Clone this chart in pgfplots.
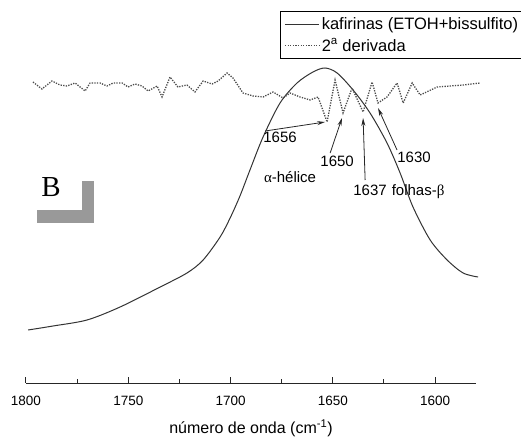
\documentclass[border=0pt]{standalone}
\usepackage{fontspec}
\setmainfont{Liberation Sans}
\newfontfamily\serif{Liberation Serif}
\usepackage{pgfplots}
\pgfplotsset{compat=1.18}
\usetikzlibrary{arrows.meta}

\begin{document}
\begin{tikzpicture}
\path[use as bounding box] (0,0) rectangle (521pt,439pt);
\begin{axis}[at={(26pt,56pt)}, anchor=south west, scale only axis,
 width=450pt, height=370pt,
 x dir=reverse, xmin=1580, xmax=1800, ymin=0, ymax=370,
 axis x line*=bottom, axis y line=none,
 axis line style={-, line width=1pt, black!85},
 xtick={1600,1650,...,1800}, minor xtick={1625,1675,1725,1775},
 tick align=inside, major tick length=6pt, minor tick length=4pt,
 tick style={line width=1pt, black!85},
 xticklabel style={font=\fontsize{13.5}{15}\selectfont, yshift=-10pt, /pgf/number format/assume math mode=true},
 /pgf/number format/1000 sep={},
 xlabel={número de onda (cm\textsuperscript{-1})},
 xlabel style={font=\fontsize{16}{18}\selectfont, yshift=-7pt},
 clip=false,
 legend style={at={(axis cs:1675.8,372)}, anchor=north west,
   font=\fontsize{16.5}{19}\selectfont, draw=black, line width=0.6pt,
   inner xsep=4pt, inner ysep=4pt, row sep=4pt},
 legend cell align=left,
 legend image code/.code={\draw[#1] (0cm,0cm) -- (1.2cm,0cm);},
]
\addplot[black!80, line width=1pt, smooth, tension=0.5] coordinates {
(1799.0,53) (1786.8,57) (1770.2,63) (1754.0,76) (1734.4,96) (1721.3,110)
(1713.4,123) (1705.1,146) (1700.2,165) (1695.4,187) (1690.5,213) (1684.1,246)
(1675.8,280) (1667.5,300) (1659.7,311) (1653.8,315) (1647.9,310) (1640.1,293)
(1631.8,270) (1623.5,240) (1617.1,210) (1610.8,176) (1602.4,143) (1594.1,123)
(1586.3,110) (1579.0,106)
};
\addlegendentry{kafirinas (ETOH+bissulfito)}
\addplot[black!70, line width=1.3pt, dash pattern=on 1.3pt off 1.3pt] coordinates {
(1796.6,301) (1792.2,294) (1787.3,302) (1783.4,298) (1780.0,297) (1776.0,300)
(1771.1,292) (1768.7,300) (1763.8,300) (1760.4,297) (1757.4,300) (1753.0,300)
(1750.1,296) (1746.7,299) (1743.3,297) (1740.3,292) (1735.9,297) (1733.5,286)
(1729.6,306) (1725.7,296) (1721.3,298) (1717.4,291) (1713.4,302) (1709.0,299)
(1706.1,302) (1701.7,310) (1698.8,305) (1693.9,290) (1689.0,287) (1684.1,286)
(1679.2,291) (1674.3,285) (1670.9,290) (1666.0,286) (1661.1,283) (1657.2,286)
(1652.8,261) (1648.9,303) (1645.0,270) (1640.6,295) (1635.2,271) (1630.8,301)
(1627.9,280) (1623.5,286) (1618.6,300) (1615.6,280) (1611.2,300) (1607.3,288)
(1599.0,296) (1586.3,298) (1578.0,300)
};
\addlegendentry{2\textsuperscript{a} derivada}

\begin{scope}[font=\fontsize{15}{17}\selectfont]
\node at (axis cs:1675.8,246) {1656};
\node at (axis cs:1647.9,222) {1650};
\node at (axis cs:1670.9,206) {{\serif α}-hélice};
\node at (axis cs:1631.8,193) {1637};
\node at (axis cs:1608.3,191) {folhas-{\serif β}};
\node at (axis cs:1610.3,226) {1630};
\end{scope}
\begin{scope}[-{Stealth[length=8pt,width=4pt]}, line width=0.8pt, black!85]
\draw (axis cs:1683.1,252) -- (axis cs:1653.8,261);
\draw (axis cs:1651.3,230) -- (axis cs:1645.5,265);
\draw (axis cs:1634.2,203) -- (axis cs:1635.2,265);
\draw (axis cs:1618.6,233) -- (axis cs:1627.9,275);
\end{scope}
\node[font=\serif\fontsize{29}{30}\selectfont] at (axis cs:1787.8,196) {B};
\fill[black!40] (axis cs:1772.6,160) rectangle (axis cs:1766.7,202);
\fill[black!40] (axis cs:1794.6,160) rectangle (axis cs:1766.7,173);
\end{axis}
\end{tikzpicture}
\end{document}
